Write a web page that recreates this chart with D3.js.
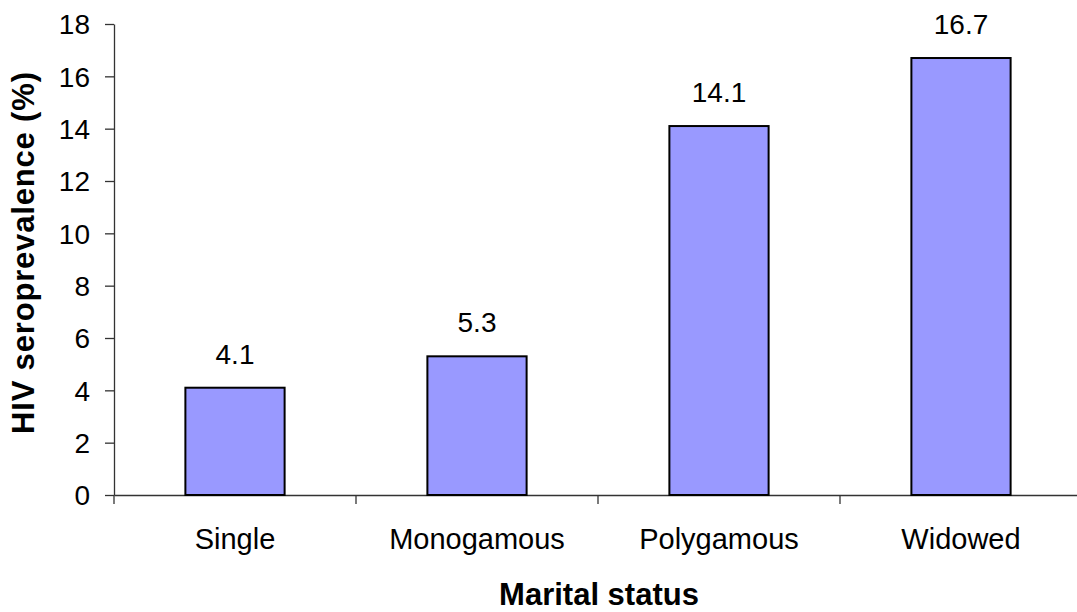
<html>
  <head>
    <style>
    body {
      margin: 0;
      background: #fff;
    }
    text {
      font-family: "Liberation Sans", Arial, sans-serif;
      fill: #000;
    }
    .bar {
      fill: #9999ff;
      stroke: #000;
      stroke-width: 2;
    }
    .axis path, .axis line {
      stroke: #333;
      stroke-width: 1.3;
    }
    </style>
  </head>
  <body>
    <script src="https://d3js.org/d3.v7.min.js"></script>
    <script>
    var width = 1077,
      height = 612;

    // data
    var categories = ["Single", "Monogamous", "Polygamous", "Widowed"];
    var values = [4.1, 5.3, 14.1, 16.7];
    var yTicks = [0, 2, 4, 6, 8, 10, 12, 14, 16, 18];

    var svg = d3.select("body").append("svg")
        .attr("width", width)
        .attr("height", height);

    var plotLeft = 114, plotRight = 1082, plotTop = 24, plotBottom = 495;

    var x = d3.scaleBand()
        .domain(categories)
        .range([plotLeft, plotRight])
        .paddingInner(0.59)
        .paddingOuter(0.295);

    var y = d3.scaleLinear()
        .domain([0, 18])
        .range([plotBottom, plotTop]);

    // y axis
    var yAxis = svg.append("g")
        .attr("class", "axis")
        .attr("transform", "translate(" + plotLeft + ",0)")
        .call(d3.axisLeft(y).tickValues(yTicks).tickSize(9).tickPadding(15).tickSizeOuter(0));
    yAxis.selectAll("text")
        .style("font-size", "28px")
        .attr("dy", "0.35em");

    // x axis: line plus ticks on category boundaries
    var xAxis = svg.append("g")
        .attr("class", "axis")
        .attr("transform", "translate(0," + plotBottom + ")")
        .call(d3.axisBottom(x).tickSize(0).tickSizeOuter(0).tickFormat(""));

    var gap = (x.step() - x.bandwidth()) / 2;
    var bounds = categories.map(function(c){ return x(c) - gap; });
    bounds.push(x(categories[categories.length - 1]) + x.bandwidth() + gap);

    xAxis.selectAll(".bound")
        .data(bounds)
      .enter().append("line")
        .attr("class", "bound")
        .attr("x1", function(d){ return d; })
        .attr("x2", function(d){ return d; })
        .attr("y1", 0)
        .attr("y2", 9);

    // category labels
    svg.selectAll(".cat")
        .data(categories)
      .enter().append("text")
        .attr("class", "cat")
        .attr("x", function(d){ return x(d) + x.bandwidth() / 2; })
        .attr("y", 549)
        .attr("text-anchor", "middle")
        .style("font-size", "29px")
        .text(function(d){ return d; });

    // bars
    svg.selectAll(".bar")
        .data(values)
      .enter().append("rect")
        .attr("class", "bar")
        .attr("x", function(d, i){ return x(categories[i]); })
        .attr("width", x.bandwidth())
        .attr("y", function(d){ return y(d); })
        .attr("height", function(d){ return y(0) - y(d); });

    // value labels
    svg.selectAll(".val")
        .data(values)
      .enter().append("text")
        .attr("class", "val")
        .attr("x", function(d, i){ return x(categories[i]) + x.bandwidth() / 2; })
        .attr("y", function(d){ return y(d) - 24; })
        .attr("text-anchor", "middle")
        .style("font-size", "28px")
        .text(function(d){ return d.toFixed(1); });

    // axis titles
    svg.append("text")
        .attr("x", 599)
        .attr("y", 605)
        .attr("text-anchor", "middle")
        .style("font-size", "31px")
        .style("font-weight", "bold")
        .text("Marital status");

    svg.append("text")
        .attr("transform", "translate(34,253) rotate(-90)")
        .attr("text-anchor", "middle")
        .attr("textLength", 362)
        .attr("lengthAdjust", "spacing")
        .style("font-size", "31px")
        .style("font-weight", "bold")
        .text("HIV seroprevalence (%)");
    </script>
  </body>
</html>
